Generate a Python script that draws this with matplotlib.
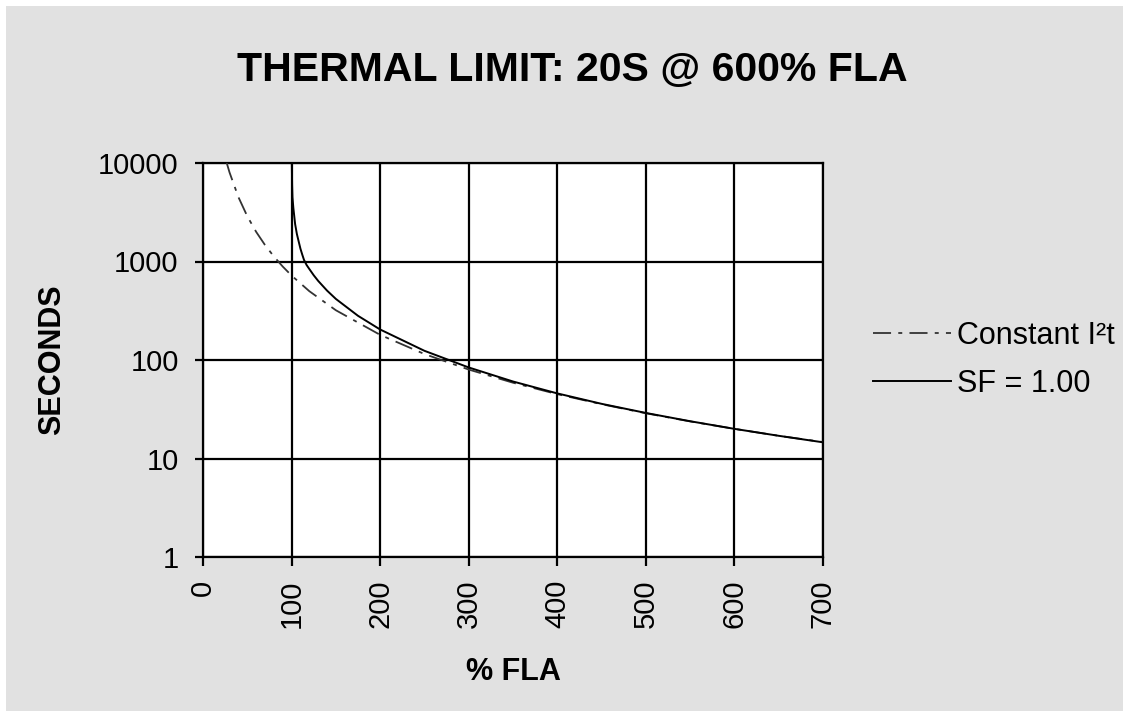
import matplotlib
matplotlib.use("Agg")
import matplotlib.pyplot as plt
from matplotlib.patches import Rectangle

# values
pct_fla_i2t = [26.8, 30, 40, 50, 60, 70, 80, 90, 100, 120, 150, 200, 250, 300,
               350, 400, 450, 500, 550, 600, 650, 700]
sec_i2t = [10000, 8000, 4500, 2880, 2000, 1470, 1125, 889, 720, 500, 320, 180,
           115, 80, 58.8, 45, 35.6, 28.8, 23.8, 20, 17, 14.7]

pct_fla_sf = [100.3, 100.6, 101, 102, 103, 104, 106, 108, 110, 112, 114, 117,
              120, 125, 130, 140, 150, 175, 200, 250, 300, 350, 400, 450, 500,
              550, 600, 650, 700]
sec_sf = [10000, 6000, 4500, 3500, 2900, 2400, 1900, 1600, 1350, 1180, 1040,
          920, 840, 725, 636, 507, 417, 281, 204, 124, 84, 60.5, 45.8, 35.9,
          29, 23.9, 20, 17, 14.6]

x_ticks = [0, 100, 200, 300, 400, 500, 600, 700]
y_ticks = [1, 10, 100, 1000, 10000]
y_tick_labels = ["1", "10", "100", "1000", "10000"]

plt.rcParams['font.family'] = ['Liberation Sans', 'DejaVu Sans']

fig = plt.figure(figsize=(11.29, 7.17), dpi=100)
fig.patch.set_facecolor("white")
fig.patches.append(Rectangle((6 / 1129, 6 / 717), 1 - 12 / 1129, 1 - 12 / 717,
                             transform=fig.transFigure, facecolor="#e1e1e1",
                             edgecolor="none", zorder=-1))

ax = fig.add_axes([203 / 1129, 1 - 557 / 717, 620 / 1129, 394 / 717])
ax.set_facecolor("white")

ax.plot(pct_fla_i2t, sec_i2t, color="#333333", lw=1.3,
        linestyle=(0, (10, 4, 2.2, 4)), label="Constant I\u00b2t", zorder=3)
ax.plot(pct_fla_sf, sec_sf, color="black", lw=1.4, label="SF = 1.00", zorder=3)

ax.set_yscale("log")
ax.set_xlim(0, 700)
ax.set_ylim(1, 10000)
ax.set_xticks(x_ticks)
ax.set_xticklabels([str(v) for v in x_ticks], rotation=90, fontsize=21)
ax.set_yticks(y_ticks)
ax.set_yticklabels(y_tick_labels, fontsize=21)
ax.yaxis.set_minor_locator(matplotlib.ticker.NullLocator())
ax.tick_params(axis="x", direction="out", length=6.5, width=1.6, pad=10,
               color="black")
ax.tick_params(axis="y", direction="out", length=6, width=1.6, pad=11.5,
               color="black")

ax.grid(True, which="major", color="black", lw=1.6)
for s in ax.spines.values():
    s.set_linewidth(1.6)
    s.set_color("black")

fig.text(572 / 1129, 1 - 70 / 717, "THERMAL LIMIT: 20S @ 600% FLA",
         ha="center", va="center", fontsize=29.5, fontweight="bold")
fig.text(513 / 1129, 1 - 672 / 717, "% FLA", ha="center", va="center",
         fontsize=22, fontweight="bold")
fig.text(52 / 1129, 1 - 360 / 717, "SECONDS", ha="center", va="center",
         fontsize=22, fontweight="bold", rotation=90)

leg = fig.legend(loc="center left", bbox_to_anchor=(873 / 1129, 1 - 360 / 717),
                 frameon=False, fontsize=22, handlelength=2.55,
                 handletextpad=0.2, labelspacing=0.6, borderpad=0,
                 borderaxespad=0)

fig.savefig("out.png", dpi=100, facecolor=fig.get_facecolor())
